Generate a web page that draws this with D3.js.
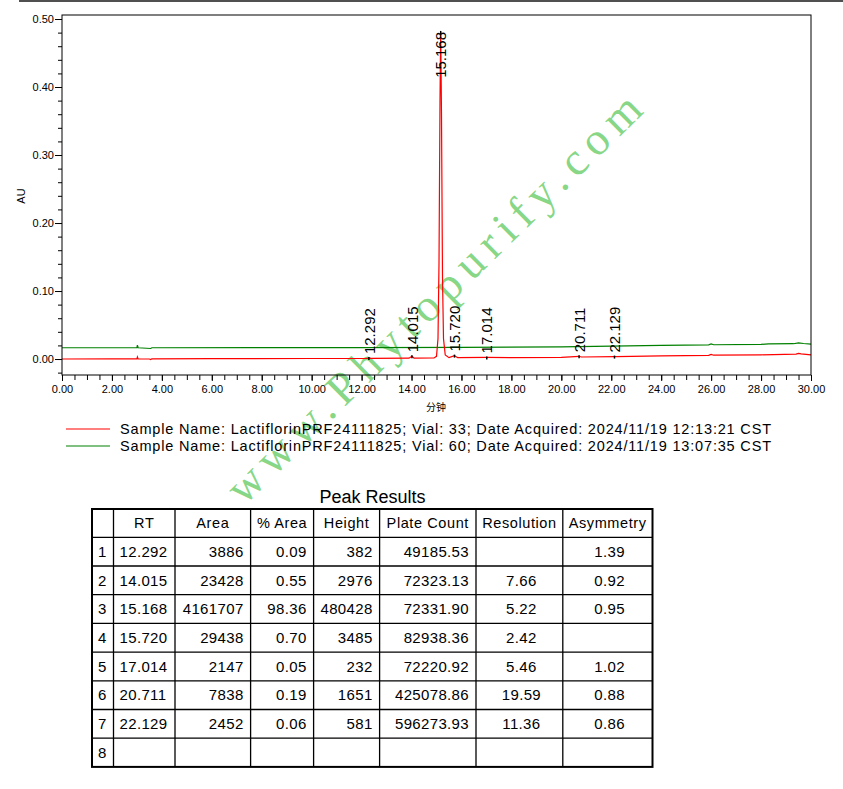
<!DOCTYPE html>
<html>
<head>
<meta charset="utf-8">
<script src="https://cdn.jsdelivr.net/npm/d3@7"></script>
<style>
  html, body { margin: 0; padding: 0; background: #fff; }
  svg { display: block; font-family: "Liberation Sans", Arial, sans-serif; }
</style>
</head>
<body>
<svg id="chart" width="843" height="789"></svg>
<script>
// ---------------- DATA ----------------
// Chromatogram traces: [time (min), absorbance (AU)]
const redTrace = [
  [0.00, 0.0000], [2.00, 0.0002], [3.00, 0.0002], [3.02, 0.0030], [3.05, 0.0000],
  [3.50, 0.0000], [3.55, -0.0008], [3.60, 0.0003], [6.00, 0.0005], [10.00, 0.0008],
  [12.20, 0.0010], [12.29, 0.0014], [12.40, 0.0010], [13.90, 0.0012], [14.015, 0.0040],
  [14.10, 0.0014], [14.90, 0.0015], [15.00, 0.0040], [15.06, 0.0300], [15.10, 0.1400],
  [15.14, 0.3800], [15.168, 0.4810], [15.20, 0.3600], [15.24, 0.1200], [15.28, 0.0300],
  [15.35, 0.0060], [15.50, 0.0020], [15.72, 0.0050], [15.85, 0.0020], [17.014, 0.0024],
  [18.00, 0.0020], [20.00, 0.0025], [20.711, 0.0040], [20.80, 0.0030], [22.129, 0.0036],
  [22.20, 0.0035], [24.00, 0.0045], [25.90, 0.0055], [26.00, 0.0068], [26.10, 0.0056],
  [28.00, 0.0062], [29.40, 0.0072], [29.50, 0.0082], [29.60, 0.0075], [30.00, 0.0060]
];
const greenTrace = [
  [0.00, 0.0166], [3.00, 0.0166], [3.02, 0.0205], [3.05, 0.0166], [3.55, 0.0155],
  [3.60, 0.0166], [8.00, 0.0168], [12.00, 0.0168], [16.00, 0.0172], [20.00, 0.0180],
  [22.00, 0.0190], [24.00, 0.0200], [25.90, 0.0208], [26.00, 0.0222], [26.10, 0.0210],
  [28.00, 0.0215], [28.30, 0.0222], [29.30, 0.0225], [29.50, 0.0238], [29.70, 0.0228],
  [30.00, 0.0218]
];

const yMajorTicks = [0.00, 0.10, 0.20, 0.30, 0.40, 0.50];
const xMajorTicks = [0, 2, 4, 6, 8, 10, 12, 14, 16, 18, 20, 22, 24, 26, 28, 30];

const legendLabels = [
  "Sample Name: LactiflorinPRF24111825; Vial: 33; Date Acquired: 2024/11/19 12:13:21 CST",
  "Sample Name: LactiflorinPRF24111825; Vial: 60; Date Acquired: 2024/11/19 13:07:35 CST"
];
const legendColors = ["#ff0000", "#008000"];

// Peak Results table
const tableHeaders = ["", "RT", "Area", "% Area", "Height", "Plate Count", "Resolution", "Asymmetry"];
const peakNo     = ["1", "2", "3", "4", "5", "6", "7", "8"];
const peakRT     = ["12.292", "14.015", "15.168", "15.720", "17.014", "20.711", "22.129", ""];
const peakArea   = ["3886", "23428", "4161707", "29438", "2147", "7838", "2452", ""];
const peakPct    = ["0.09", "0.55", "98.36", "0.70", "0.05", "0.19", "0.06", ""];
const peakHeight = ["382", "2976", "480428", "3485", "232", "1651", "581", ""];
const peakPlate  = ["49185.53", "72323.13", "72331.90", "82938.36", "72220.92", "425078.86", "596273.93", ""];
const peakRes    = ["", "7.66", "5.22", "2.42", "5.46", "19.59", "11.36", ""];
const peakAsym   = ["1.39", "0.92", "0.95", "", "1.02", "0.88", "0.86", ""];

// ---------------- CHART ----------------
const svg = d3.select("#chart");
svg.append("rect").attr("width", 843).attr("height", 789).attr("fill", "#fff");

// page top rule
svg.append("rect").attr("x", 19).attr("y", 0).attr("width", 824).attr("height", 2).attr("fill", "#505050");

const plot = { left: 62, right: 811, top: 15, bottom: 375 };
const x = d3.scaleLinear().domain([0, 30]).range([plot.left, plot.right]);
const y = d3.scaleLinear().domain([-0.0235, 0.5059]).range([plot.bottom, plot.top]);

// watermark (behind)
svg.append("text")
  .attr("transform", "translate(244,506) rotate(-44.5)")
  .style("font-family", "'Liberation Serif', 'DejaVu Serif', serif")
  .style("font-size", "46px")
  .attr("fill", "#66cc66")
  .attr("fill-opacity", 0.8)
  .attr("textLength", 562)
  .attr("lengthAdjust", "spacing")
  .text("www.Phytopurify.com");

// traces
const line = d3.line().x(d => x(d[0])).y(d => y(d[1]));
svg.append("path").datum(greenTrace).attr("d", line)
  .attr("fill", "none").attr("stroke", legendColors[1]).attr("stroke-width", 1.2);
svg.append("path").datum(redTrace).attr("d", line)
  .attr("fill", "none").attr("stroke", legendColors[0]).attr("stroke-width", 1.2);

// frame
svg.append("rect")
  .attr("x", plot.left).attr("y", plot.top)
  .attr("width", plot.right - plot.left).attr("height", plot.bottom - plot.top)
  .attr("fill", "none").attr("stroke", "#000").attr("stroke-width", 1);

// Y axis
const yMinor = d3.range(-2, 51, 2).map(v => v / 100);
const yMinorAxis = svg.append("g").attr("transform", `translate(${plot.left},0)`)
  .call(d3.axisLeft(y).tickValues(yMinor).tickSize(4).tickFormat(""));
const yAxis = svg.append("g").attr("transform", `translate(${plot.left},0)`)
  .call(d3.axisLeft(y).tickValues(yMajorTicks).tickSize(7).tickPadding(1).tickFormat(d3.format(".2f")));
[yMinorAxis, yAxis].forEach(g => { g.select(".domain").remove(); g.selectAll("line").attr("stroke", "#000"); });
yAxis.selectAll("text").style("font-size", "11px").attr("fill", "#000")
  .style("font-family", "'Liberation Sans', Arial, sans-serif");

// X axis
const xMinor = d3.range(0, 61).map(v => v / 2);
const xMinorAxis = svg.append("g").attr("transform", `translate(0,${plot.bottom})`)
  .call(d3.axisBottom(x).tickValues(xMinor).tickSize(5).tickFormat(""));
const xAxis = svg.append("g").attr("transform", `translate(0,${plot.bottom})`)
  .call(d3.axisBottom(x).tickValues(xMajorTicks).tickSize(6).tickPadding(4).tickFormat(d3.format(".2f")));
[xMinorAxis, xAxis].forEach(g => { g.select(".domain").remove(); g.selectAll("line").attr("stroke", "#000"); });
xAxis.selectAll("text").style("font-size", "11px").attr("fill", "#000")
  .style("font-family", "'Liberation Sans', Arial, sans-serif");

// axis titles
svg.append("text").attr("transform", "translate(25,196) rotate(-90)")
  .attr("text-anchor", "middle").style("font-size", "11px").text("AU");
svg.append("text").attr("x", 436).attr("y", 411)
  .attr("text-anchor", "middle").style("font-size", "10px")
  .style("font-family", "'Noto Sans CJK SC', sans-serif").text("分钟");

// peak labels
function traceValueAt(t) {
  let best = redTrace[0];
  redTrace.forEach(p => { if (Math.abs(p[0] - t) < Math.abs(best[0] - t)) best = p; });
  return best[1];
}
peakRT.filter(d => d !== "").forEach(rt => {
  const t = +rt;
  const apex = y(traceValueAt(t));
  const txt = svg.append("text")
    .style("font-size", "15px")
    .attr("fill", "#000")
    .attr("dy", "0.38em")
    .text(rt);
  const len = txt.node().getComputedTextLength();
  let anchorY, anchor;
  if (apex - 4 - len < plot.top + 2) { anchorY = apex; anchor = "end"; }
  else { anchorY = apex - 4; anchor = "start"; }
  txt.attr("text-anchor", anchor)
     .attr("transform", `translate(${x(t)},${anchorY}) rotate(-90)`);
  svg.append("line")
    .attr("x1", x(t)).attr("x2", x(t))
    .attr("y1", y(traceValueAt(t)) - 1).attr("y2", y(traceValueAt(t)) + 2)
    .attr("stroke", "#000").attr("stroke-width", 1.5);
});

// legend
legendLabels.forEach((lab, i) => {
  const ly = 429 + i * 17;
  svg.append("line").attr("x1", 66).attr("x2", 110).attr("y1", ly).attr("y2", ly)
    .attr("stroke", legendColors[i]).attr("stroke-width", 1.2);
  svg.append("text").attr("x", 120).attr("y", ly + 5.3)
    .style("font-size", "14.5px").attr("fill", "#000")
    .attr("textLength", 651).attr("lengthAdjust", "spacing")
    .text(lab);
});

// ---------------- TABLE ----------------
svg.append("text").attr("x", 372.5).attr("y", 503)
  .attr("text-anchor", "middle").style("font-size", "18px").attr("fill", "#000")
  .text("Peak Results");

const colX = [92, 113.5, 175, 250.6, 313.6, 379.6, 476, 562.8, 652.5];
const tTop = 509, headerH = 28.3, rowH = 28.7;
const nRows = peakNo.length;
const tBottom = tTop + headerH + nRows * rowH;
const tbl = svg.append("g");

colX.slice(1, -1).forEach(cx => {
  tbl.append("line").attr("x1", cx).attr("x2", cx).attr("y1", tTop).attr("y2", tBottom)
    .attr("stroke", "#000").attr("stroke-width", 1.3);
});
d3.range(nRows).forEach(i => {
  const ry = tTop + headerH + i * rowH;
  tbl.append("line").attr("x1", colX[0]).attr("x2", colX[8]).attr("y1", ry).attr("y2", ry)
    .attr("stroke", "#000").attr("stroke-width", 1.3);
});
tbl.append("rect").attr("x", colX[0]).attr("y", tTop)
  .attr("width", colX[8] - colX[0]).attr("height", tBottom - tTop)
  .attr("fill", "none").attr("stroke", "#000").attr("stroke-width", 2);

tableHeaders.forEach((h, c) => {
  tbl.append("text").attr("x", (colX[c] + colX[c + 1]) / 2).attr("y", tTop + headerH / 2 + 5)
    .attr("text-anchor", "middle").style("font-size", "14.5px").style("letter-spacing", "0.6px")
    .attr("fill", "#000").text(h);
});

const columns = [peakNo, peakRT, peakArea, peakPct, peakHeight, peakPlate, peakRes, peakAsym];
const align = ["start", "start", "end", "end", "end", "end", "middle", "middle"];
columns.forEach((col, c) => {
  col.forEach((v, r) => {
    if (v === "") return;
    let tx;
    if (align[c] === "start") tx = colX[c] + 6;
    else if (align[c] === "end") tx = colX[c + 1] - 7;
    else tx = (colX[c] + colX[c + 1]) / 2 + 2;
    tbl.append("text").attr("x", tx).attr("y", tTop + headerH + r * rowH + rowH / 2 + 5.3)
      .attr("text-anchor", align[c]).style("font-size", "15px").style("letter-spacing", "0.35px")
      .attr("fill", "#000").text(v);
  });
});
</script>
</body>
</html>
